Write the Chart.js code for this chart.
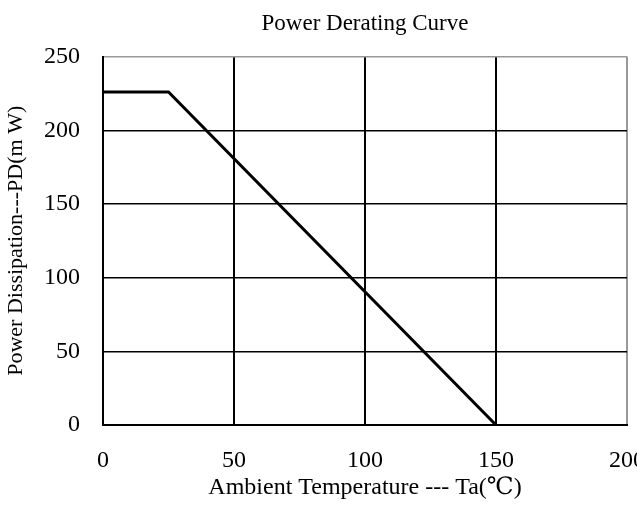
<!DOCTYPE html>
<html>
<head>
<meta charset="utf-8">
<script src="https://cdn.jsdelivr.net/npm/chart.js@4"></script>
<style>
html,body{margin:0;padding:0;background:#fff;overflow:hidden;width:637px;height:505px;}
canvas{display:block;}
</style>
</head>
<body>
<canvas id="c" width="666" height="505" style="width:666px;height:505px"></canvas>
<script>
// Data
const temperatures = [0, 25, 150];          // Ambient temperature Ta (°C)
const powerValues  = [226, 226, 0];          // Power dissipation PD (mW)
const xTicks = [0, 50, 100, 150, 200];
const yTicks = [0, 50, 100, 150, 200, 250];
const chartTitle = 'Power Derating Curve';
const xTitle = 'Ambient Temperature --- Ta(\u2103)';
const yTitle = 'Power Dissipation---PD(m W)';

const FONT = '"Liberation Serif", "Times New Roman", "DejaVu Serif", "Noto Sans CJK TC", serif';
const points = temperatures.map((t, i) => ({x: t, y: powerValues[i]}));

new Chart(document.getElementById('c'), {
  type: 'line',
  data: {
    datasets: [{
      data: points,
      borderColor: '#000',
      borderWidth: 3,
      pointRadius: 0,
      fill: false,
      tension: 0
    }]
  },
  options: {
    responsive: false,
    animation: false,
    devicePixelRatio: 1,
    layout: { padding: { left: 0, right: 0, top: 0, bottom: 0 } },
    plugins: {
      legend: { display: false },
      tooltip: { enabled: false },
      title: {
        display: true,
        fullSize: false,
        text: chartTitle,
        color: '#000',
        font: { family: FONT, size: 23, weight: 'normal' },
        padding: { top: 10, bottom: 19 }
      }
    },
    scales: {
      x: {
        type: 'linear',
        min: xTicks[0],
        max: xTicks[xTicks.length - 1],
        afterBuildTicks: s => { s.ticks = xTicks.map(v => ({value: v})); },
        afterFit: s => { s.height = 80; },
        ticks: {
          color: '#000',
          font: { family: FONT, size: 24 },
          padding: 21,
          maxRotation: 0
        },
        grid: {
          drawTicks: false,
          color: ctx => (ctx.tick && ctx.tick.value === 200) ? '#999' : '#000',
          lineWidth: 2
        },
        border: { display: true, color: '#000', width: 2 },
        title: {
          display: true,
          text: xTitle,
          color: '#000',
          font: { family: FONT, size: 24 },
          padding: { top: 0, bottom: 3 }
        }
      },
      y: {
        type: 'linear',
        min: yTicks[0],
        max: yTicks[yTicks.length - 1],
        afterBuildTicks: s => { s.ticks = yTicks.map(v => ({value: v})); },
        afterFit: s => { s.width = 103; },
        ticks: {
          color: '#000',
          font: { family: FONT, size: 24 },
          padding: 23
        },
        grid: {
          drawTicks: false,
          color: ctx => (ctx.tick && ctx.tick.value === 250) ? '#999' : '#000',
          lineWidth: 1.5
        },
        border: { display: true, color: '#000', width: 2 },
        title: {
          display: true,
          text: yTitle,
          color: '#000',
          font: { family: FONT, size: 22 },
          padding: { top: 3, bottom: 0 }
        }
      }
    }
  }
});
</script>
</body>
</html>
